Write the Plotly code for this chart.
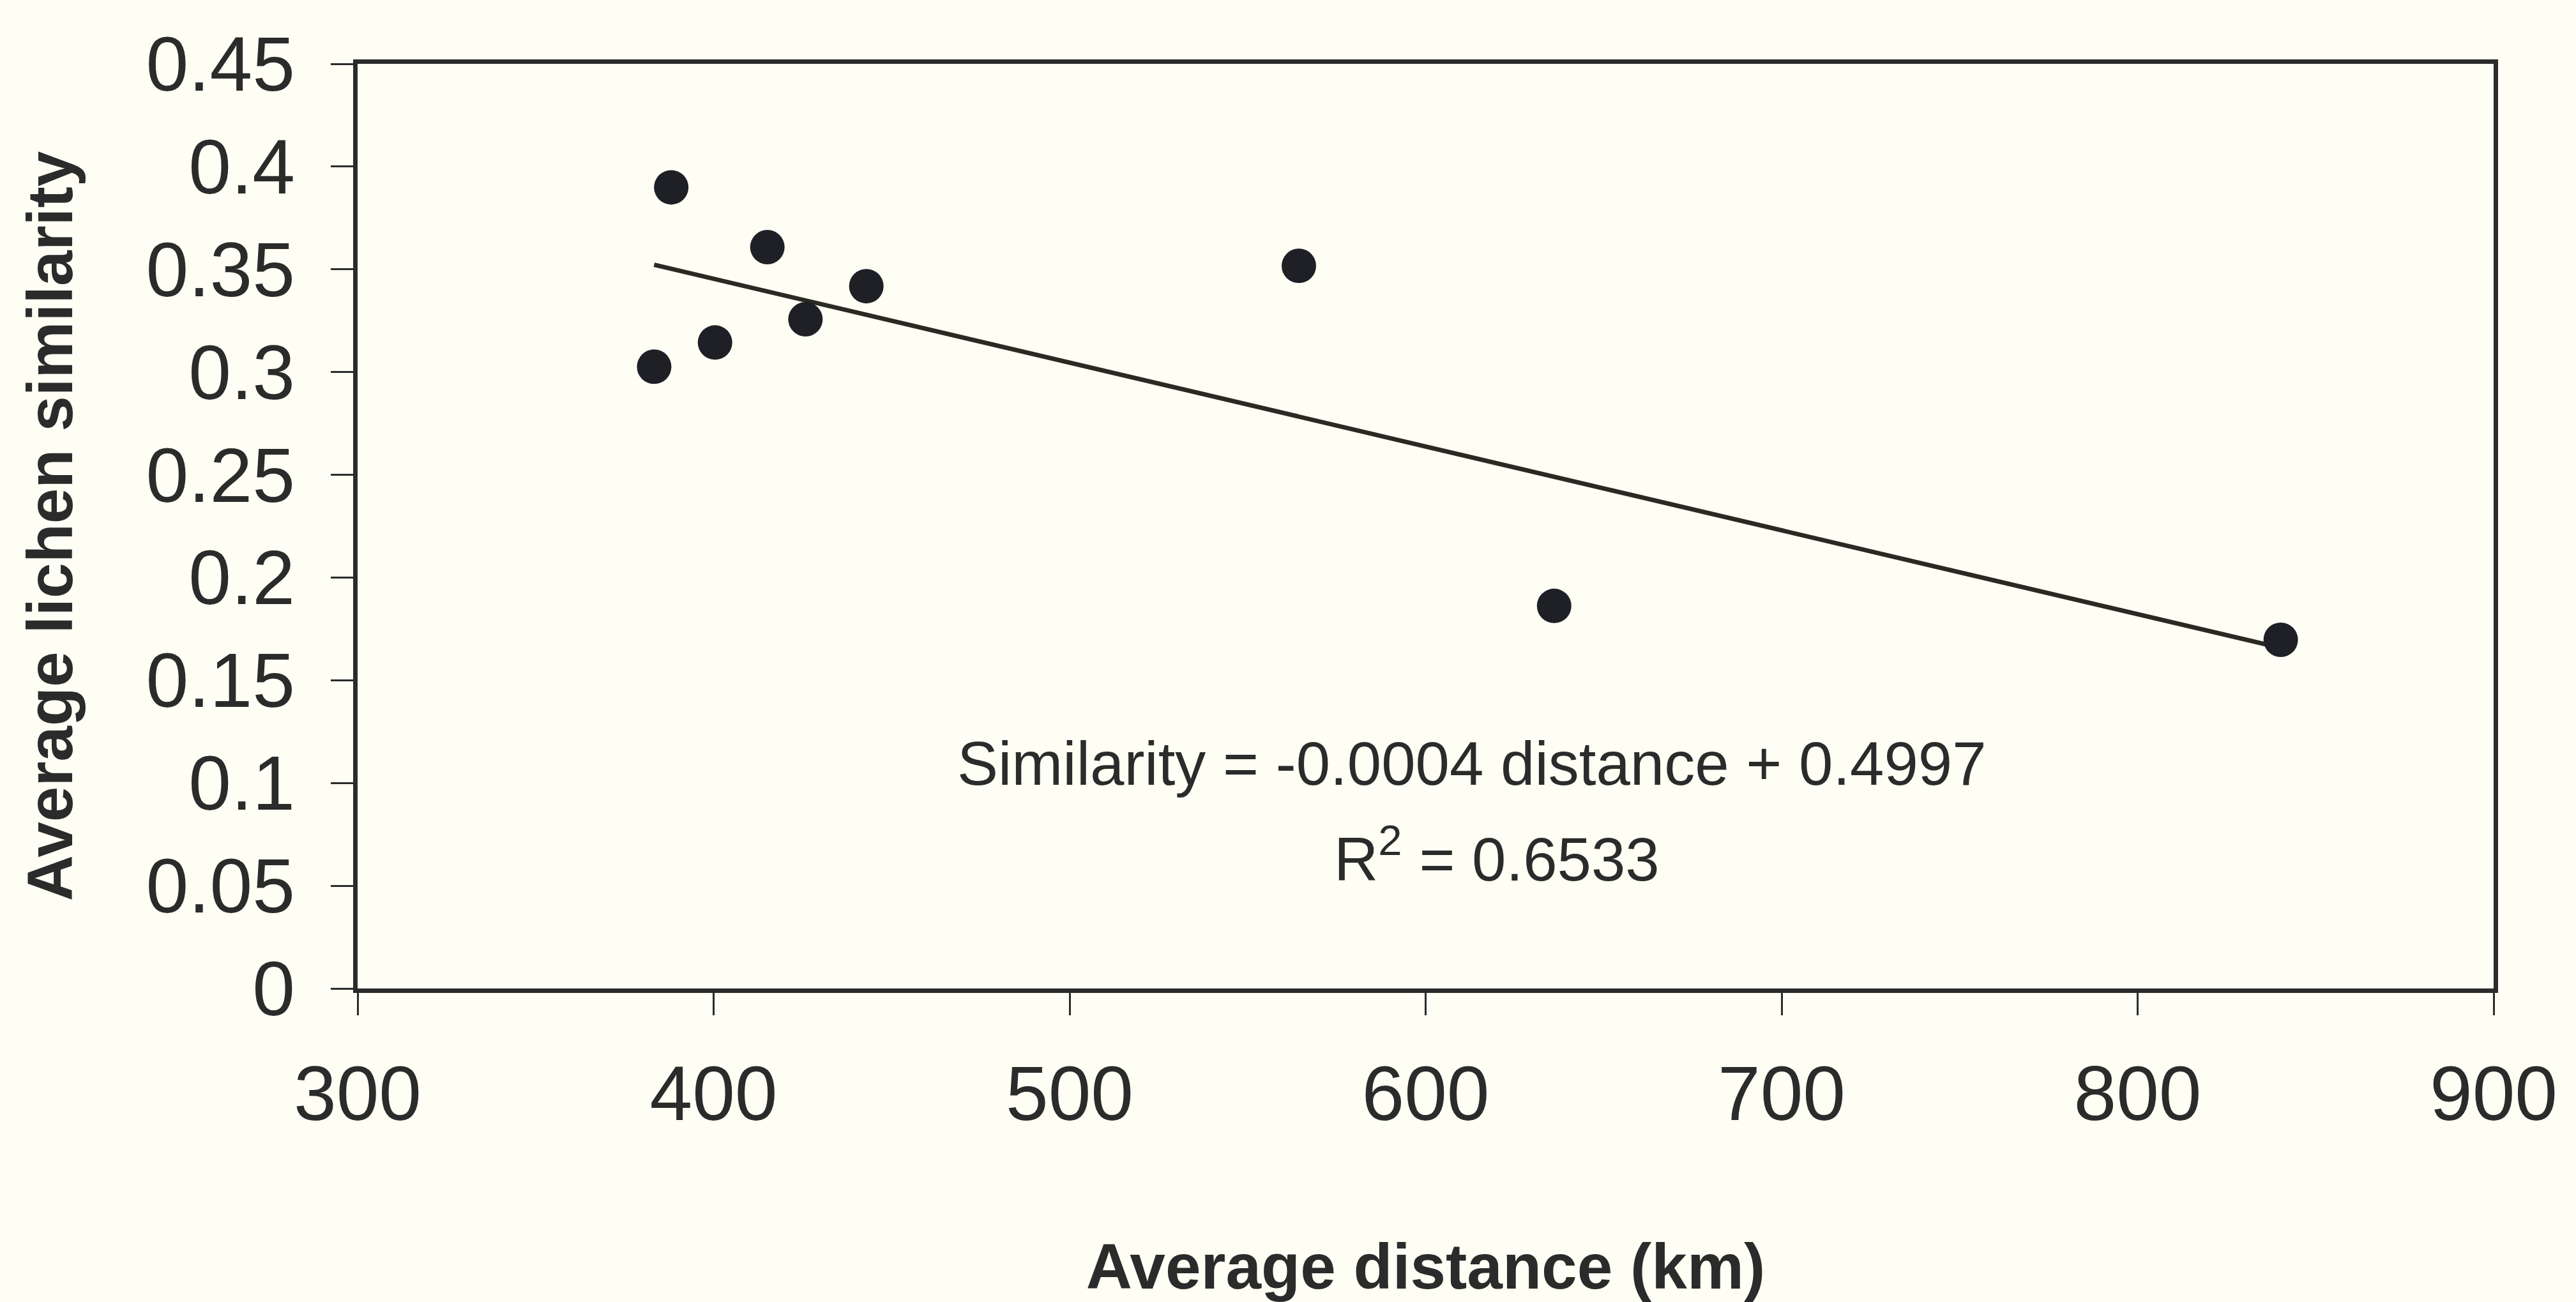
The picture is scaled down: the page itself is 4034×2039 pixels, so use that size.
import numpy as np
import plotly.graph_objects as go

# Data
distance_km = [383.3, 388.1, 400.4, 415.1, 425.8, 442.9, 564.4, 636.1, 840.2]
lichen_similarity = [0.3026, 0.3899, 0.3144, 0.3608, 0.3257, 0.3418, 0.3517, 0.1862, 0.1697]

x_tick_vals = [300, 400, 500, 600, 700, 800, 900]
x_tick_text = ["300", "400", "500", "600", "700", "800", "900"]
y_tick_vals = [0, 0.05, 0.1, 0.15, 0.2, 0.25, 0.3, 0.35, 0.4, 0.45]
y_tick_text = ["0", "0.05", "0.1", "0.15", "0.2", "0.25", "0.3", "0.35", "0.4", "0.45"]

equation_text = "Similarity = -0.0004 distance + 0.4997"
r2_text = "R<sup>2</sup> = 0.6533"

# Linear trendline fitted to the points (as in the original chart)
slope, intercept = np.polyfit(distance_km, lichen_similarity, 1)
trend_x = [min(distance_km), max(distance_km)]
trend_y = [slope * v + intercept for v in trend_x]

BG = "#fefef4"
INK = "#2b2b2b"
FONT = "Liberation Sans, Arial, sans-serif"

fig = go.Figure()
fig.add_trace(go.Scatter(
    x=trend_x, y=trend_y, mode="lines",
    line=dict(color="#2a2a22", width=7),
    showlegend=False, hoverinfo="skip",
))
fig.add_trace(go.Scatter(
    x=distance_km, y=lichen_similarity, mode="markers",
    marker=dict(color="#1f1f26", size=54, line=dict(width=0)),
    showlegend=False,
))

fig.add_annotation(
    x=613, y=0.1095, xref="x", yref="y",
    text=equation_text, showarrow=False,
    font=dict(family=FONT, size=96, color=INK),
    xanchor="center", yanchor="middle",
)
fig.add_annotation(
    x=620, y=0.065, xref="x", yref="y",
    text=r2_text, showarrow=False,
    font=dict(family=FONT, size=96, color=INK),
    xanchor="center", yanchor="middle",
)

fig.update_layout(
    width=4034, height=2039,
    margin=dict(l=560, r=129, t=100, b=489),
    paper_bgcolor=BG, plot_bgcolor=BG,
    font=dict(family=FONT, color=INK),
    xaxis=dict(
        range=[300, 900],
        tickvals=x_tick_vals, ticktext=x_tick_text,
        ticks="outside", ticklen=35, tickwidth=3, tickcolor=INK,
        showline=True, linecolor=INK, linewidth=7, mirror=True,
        showgrid=False, zeroline=False,
        tickfont=dict(family=FONT, size=120, color=INK),
        ticklabelstandoff=20,
        title=dict(text="<b>Average distance (km)</b>",
                   font=dict(family=FONT, size=100, color=INK),
                   standoff=178),
    ),
    yaxis=dict(
        range=[0, 0.45],
        tickvals=y_tick_vals, ticktext=y_tick_text,
        ticks="outside", ticklen=35, tickwidth=3, tickcolor=INK,
        showline=True, linecolor=INK, linewidth=7, mirror=True,
        showgrid=False, zeroline=False,
        tickfont=dict(family=FONT, size=120, color=INK),
        ticklabelstandoff=32,
        title=dict(text="<b>Average lichen similarity</b>",
                   font=dict(family=FONT, size=100, color=INK),
                   standoff=84),
    ),
)

fig.write_html("out.html")
